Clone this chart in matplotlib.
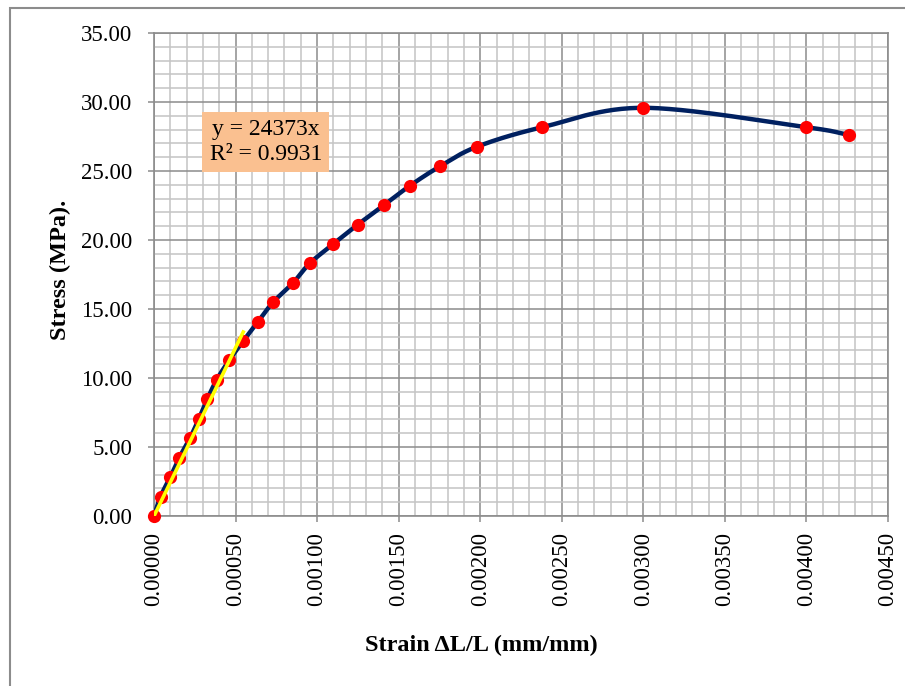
import numpy as np
import matplotlib
matplotlib.use("Agg")
import matplotlib.pyplot as plt
import matplotlib.patches as mpatch
from matplotlib.ticker import MultipleLocator, FormatStrFormatter

plt.rcParams['font.family'] = ['Liberation Serif', 'DejaVu Serif']

# compression test readings
strain = [0.0, 0.00004, 0.00010, 0.000155, 0.00022, 0.000275, 0.000326,
          0.000384, 0.00046, 0.000547, 0.000638, 0.00073, 0.000853, 0.000955,
          0.0011, 0.00125, 0.00141, 0.00157, 0.001755, 0.00198, 0.00238,
          0.00300, 0.00400, 0.00426]
stress = [0.0, 1.41, 2.82, 4.23, 5.63, 7.04, 8.45, 9.86, 11.27, 12.68,
          14.08, 15.49, 16.90, 18.31, 19.72, 21.12, 22.53, 23.94, 25.35,
          26.76, 28.17, 29.58, 28.17, 27.61]

# linear fit through origin over the elastic part
slope = 24373
r_squared = 0.9931
n_linear = 10


def catmull_rom(px, py, steps=30):
    """ Smooth curve through the points (display coordinates). """
    px = np.asarray(px, float)
    py = np.asarray(py, float)
    P = np.column_stack([px, py])
    P = np.vstack([P[0] - (P[1] - P[0]), P, P[-1] + (P[-1] - P[-2])])
    out = []
    t = np.linspace(0, 1, steps)[:, None]
    for i in range(1, len(P) - 2):
        p0, p1, p2, p3 = P[i - 1], P[i], P[i + 1], P[i + 2]
        seg = 0.5 * ((2 * p1) + (-p0 + p2) * t
                     + (2 * p0 - 5 * p1 + 4 * p2 - p3) * t ** 2
                     + (-p0 + 3 * p1 - 3 * p2 + p3) * t ** 3)
        out.append(seg)
    return np.vstack(out)


fig = plt.figure(figsize=(9.05, 6.86), dpi=100)
ax = fig.add_axes([154 / 905, 1 - 516 / 686, (888 - 154) / 905, (516 - 33) / 686])

ax.set_xlim(0, 0.0045)
ax.set_ylim(0, 35)
ax.xaxis.set_major_locator(MultipleLocator(0.0005))
ax.xaxis.set_minor_locator(MultipleLocator(0.0001))
ax.yaxis.set_major_locator(MultipleLocator(5))
ax.yaxis.set_minor_locator(MultipleLocator(1))
ax.xaxis.set_major_formatter(FormatStrFormatter('%.5f'))
ax.yaxis.set_major_formatter(FormatStrFormatter('%.2f'))

ax.grid(which='major', color='#8c8c8c', linewidth=1.1)
ax.grid(which='minor', color='#c4c4c4', linewidth=1.1)
ax.set_axisbelow(True)
for s in ax.spines.values():
    s.set_color('#8c8c8c')
    s.set_linewidth(1.2)

ax.tick_params(which='major', direction='out', length=4.5, width=1.1,
               color='#8c8c8c', labelsize=16.5)
ax.tick_params(which='minor', length=0)
ax.tick_params(axis='x', pad=7, labelrotation=90)
ax.tick_params(axis='y', pad=11)

# smoothed stress-strain curve, built in screen space
disp = ax.transData.transform(np.column_stack([strain, stress]))
curve = catmull_rom(disp[:, 0], disp[:, 1])
curve = ax.transData.inverted().transform(curve)
ax.plot(curve[:, 0], curve[:, 1], color='#002060', linewidth=3.2, zorder=3)

ax.plot(strain, stress, 'o', color='#ff0000', markersize=9.5,
        markeredgewidth=0, zorder=4, clip_on=False)

fx = np.array([0.0, strain[n_linear - 1]])
ax.plot(fx, slope * fx, color='#ffff00', linewidth=2.6, zorder=5)

ax.text(0.000685, 27.1, 'y = %dx\nR² = %.4f' % (slope, r_squared),
        fontsize=17, ha='center', va='center', linespacing=1.2, zorder=6,
        bbox=dict(boxstyle='square,pad=0.3', facecolor='#fac090',
                  edgecolor='none'))

fig.text(481 / 905, 1 - 645 / 686, 'Strain ΔL/L (mm/mm)', fontsize=17.5,
         fontweight='bold', ha='center', va='center')
fig.text(60 / 905, 1 - 270 / 686, 'Stress (MPa).', fontsize=17.5,
         fontweight='bold', ha='center', va='center', rotation=90)

# chart area outline
fig.patches.append(mpatch.Rectangle((10 / 905, -0.1), 1.1, 1 - 8 / 686 + 0.1,
                                    transform=fig.transFigure, fill=False,
                                    edgecolor='#8c8c8c', linewidth=1.5))

fig.savefig('out.png', dpi=100)
